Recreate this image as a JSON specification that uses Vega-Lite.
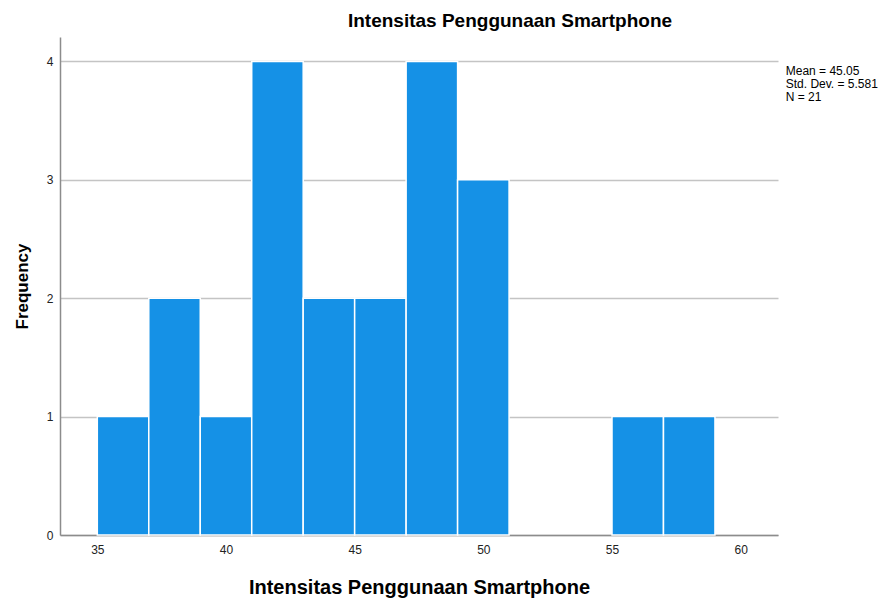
{
  "$schema": "https://vega.github.io/schema/vega-lite/v6.json",
  "width": 718,
  "height": 498,
  "autosize": {"type": "none"},
  "padding": {"left": 60, "top": 37, "right": 113, "bottom": 64},
  "background": "white",
  "config": {
    "font": "Liberation Sans",
    "view": {"stroke": null}
  },
  "title": {
    "text": "Intensitas Penggunaan Smartphone",
    "fontSize": 19,
    "fontWeight": "bold",
    "font": "Liberation Sans",
    "color": "#000000",
    "anchor": "middle",
    "dx": 91,
    "offset": 6
  },
  "layer": [
    {
      "data": {
        "values": [
          {"bin_start": 35, "bin_end": 37, "count": 1},
          {"bin_start": 37, "bin_end": 39, "count": 2},
          {"bin_start": 39, "bin_end": 41, "count": 1},
          {"bin_start": 41, "bin_end": 43, "count": 4},
          {"bin_start": 43, "bin_end": 45, "count": 2},
          {"bin_start": 45, "bin_end": 47, "count": 2},
          {"bin_start": 47, "bin_end": 49, "count": 4},
          {"bin_start": 49, "bin_end": 51, "count": 3},
          {"bin_start": 55, "bin_end": 57, "count": 1},
          {"bin_start": 57, "bin_end": 59, "count": 1}
        ]
      },
      "mark": {"type": "bar", "color": "#1591e6", "stroke": "#ffffff", "strokeWidth": 1.5},
      "encoding": {
        "x": {
          "field": "bin_start",
          "type": "quantitative",
          "scale": {"domain": [33.55, 61.45], "nice": false, "zero": false},
          "axis": {
            "values": [35, 40, 45, 50, 55, 60],
            "format": "d",
            "ticks": false,
            "grid": false,
            "domainColor": "#8c8c8c",
            "domainWidth": 1.5,
            "labelFontSize": 12,
            "labelColor": "#222222",
            "labelPadding": 9,
            "title": "Intensitas Penggunaan Smartphone",
            "titleFontSize": 20,
            "titleFontWeight": "bold",
            "titleColor": "#000000",
            "titlePadding": 22
          }
        },
        "x2": {"field": "bin_end"},
        "y": {
          "field": "count",
          "type": "quantitative",
          "scale": {"domain": [0, 4.206], "nice": false},
          "axis": {
            "values": [0, 1, 2, 3, 4],
            "format": "d",
            "ticks": false,
            "grid": true,
            "gridColor": "#c4c4c4",
            "gridWidth": 1.5,
            "domainColor": "#8c8c8c",
            "domainWidth": 1.5,
            "labelFontSize": 12,
            "labelColor": "#222222",
            "labelPadding": 7,
            "title": "Frequency",
            "titleFontSize": 17,
            "titleFontWeight": "bold",
            "titleColor": "#000000",
            "titlePadding": 15
          }
        },
        "y2": {"datum": 0}
      }
    },
    {
      "data": {"values": [{"stats": ["Mean = 45.05", "Std. Dev. = 5.581", "N = 21"]}]},
      "mark": {"type": "text", "align": "left", "baseline": "top", "fontSize": 12, "lineHeight": 13, "color": "#000000", "clip": false},
      "encoding": {
        "x": {"datum": 61.75},
        "y": {"datum": 3.965},
        "text": {"field": "stats"}
      }
    }
  ]
}
